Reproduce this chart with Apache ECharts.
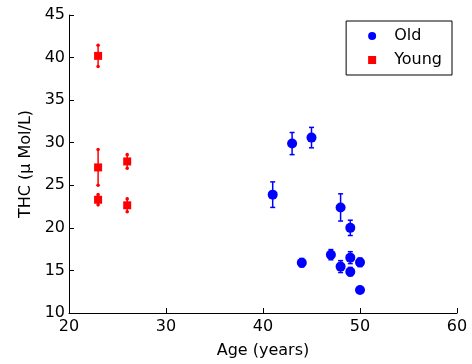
<!DOCTYPE html>
<html>
<head>
<meta charset="utf-8">
<script src="https://cdn.jsdelivr.net/npm/echarts@6/dist/echarts.min.js"></script>
<style>html,body{margin:0;padding:0;background:#fff}#c{width:472px;height:364px}</style>
</head>
<body>
<div id="c"></div>
<script>
var oldAge = [41, 43, 45, 44, 48, 49, 47, 48, 49, 50, 49, 50];
var oldTHC = [23.9, 29.9, 30.6, 15.9, 22.4, 20.0, 16.85, 15.45, 16.5, 15.95, 14.85, 12.7];
var oldErr = [1.5, 1.3, 1.2, 0.5, 1.6, 0.9, 0.6, 0.7, 0.7, 0.5, 0.5, 0.0];
var youngAge = [23, 23, 23, 26, 26];
var youngTHC = [40.2, 27.1, 23.3, 27.8, 22.65];
var youngErr = [1.25, 2.1, 0.6, 0.8, 0.75];
var xTicks = [20, 30, 40, 50, 60];
var yTicks = [10, 15, 20, 25, 30, 35, 40, 45];

var FONT = 'DejaVu Sans';
function pts(a, v) { return a.map(function (x, i) { return [x, v[i]]; }); }
function errs(a, v, e) { return a.map(function (x, i) { return [x, v[i], e[i]]; }); }

function errRender(color, dotCaps) {
  return function (params, api) {
    var x = api.value(0), y = api.value(1), e = api.value(2);
    if (!e) return { type: 'group', children: [] };
    var top = api.coord([x, y + e]), bot = api.coord([x, y - e]);
    var ch = [{
      type: 'line', shape: { x1: top[0], y1: top[1], x2: bot[0], y2: bot[1] },
      style: { stroke: color, lineWidth: 1.5 }
    }];
    [top, bot].forEach(function (p) {
      if (dotCaps) {
        ch.push({ type: 'circle', shape: { cx: p[0], cy: p[1], r: 1.8 }, style: { fill: color } });
      } else {
        ch.push({ type: 'line', shape: { x1: p[0] - 2.5, y1: p[1], x2: p[0] + 2.5, y2: p[1] },
          style: { stroke: color, lineWidth: 1.5 } });
      }
    });
    return { type: 'group', children: ch };
  };
}

var chart = echarts.init(document.getElementById('c'));
chart.setOption({
  animation: false,
  textStyle: { fontFamily: FONT },
  grid: { left: 69, right: 15, top: 15, bottom: 51 },
  xAxis: {
    type: 'value', min: xTicks[0], max: xTicks[xTicks.length - 1], interval: 10,
    name: 'Age (years)', nameLocation: 'middle', nameGap: 30,
    nameTextStyle: { color: '#000', fontSize: 16, fontFamily: FONT },
    axisLine: { show: true, lineStyle: { color: '#000', width: 1 } },
    axisTick: { show: true, inside: true, length: 5, lineStyle: { color: '#000' } },
    axisLabel: { color: '#000', fontSize: 16, fontFamily: FONT, margin: 6 },
    splitLine: { show: false }
  },
  yAxis: {
    type: 'value', min: yTicks[0], max: yTicks[yTicks.length - 1], interval: 5,
    name: 'THC (\u03bc Mol/L)', nameLocation: 'middle', nameGap: 34, nameRotate: 90,
    nameTextStyle: { color: '#000', fontSize: 16, fontFamily: FONT },
    axisLine: { show: true, lineStyle: { color: '#000', width: 1 } },
    axisTick: { show: true, inside: true, length: 5, lineStyle: { color: '#000' } },
    axisLabel: { color: '#000', fontSize: 16, fontFamily: FONT, margin: 4 },
    splitLine: { show: false }
  },
  legend: {
    data: [{ name: 'Old', icon: 'circle' }, { name: 'Young', icon: 'rect' }],
    orient: 'vertical', right: 20, top: 21,
    itemWidth: 8, itemHeight: 8, itemGap: 8,
    padding: [7, 10, 7, 22],
    borderColor: '#000', borderWidth: 1, backgroundColor: '#fff',
    textStyle: { color: '#000', fontSize: 16, fontFamily: FONT, padding: [0, 0, 0, 13] }
  },
  series: [
    { type: 'custom', name: 'oldErr', data: errs(oldAge, oldTHC, oldErr),
      renderItem: errRender('#0000ff', false), z: 1, silent: true },
    { type: 'custom', name: 'youngErr', data: errs(youngAge, youngTHC, youngErr),
      renderItem: errRender('#ff0000', true), z: 1, silent: true },
    { type: 'scatter', name: 'Old', data: pts(oldAge, oldTHC), symbol: 'circle', symbolSize: 10,
      itemStyle: { color: '#0000ff', opacity: 1 }, z: 2 },
    { type: 'scatter', name: 'Young', data: pts(youngAge, youngTHC), symbol: 'rect', symbolSize: 8,
      itemStyle: { color: '#ff0000', opacity: 1 }, z: 2 }
  ]
});
</script>
</body>
</html>
